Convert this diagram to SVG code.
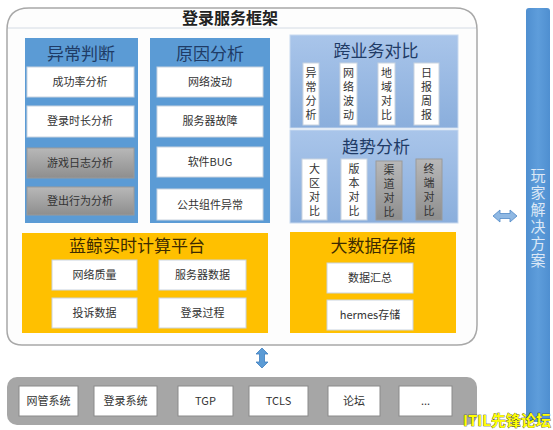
<svg xmlns="http://www.w3.org/2000/svg" width="553" height="430" viewBox="0 0 553 430">
<defs>
<linearGradient id="gGray" x1="0" y1="0" x2="0" y2="1"><stop offset="0" stop-color="#b8b8b8"/><stop offset="1" stop-color="#8e8e8e"/></linearGradient>
<linearGradient id="gLight" x1="0" y1="0" x2="0" y2="1"><stop offset="0" stop-color="#a9c5ea"/><stop offset="1" stop-color="#8aaedc"/></linearGradient>
<linearGradient id="gBar" x1="0" y1="0" x2="1" y2="0"><stop offset="0" stop-color="#4f8fd0"/><stop offset="0.5" stop-color="#5e9ddb"/><stop offset="1" stop-color="#4f8fd0"/></linearGradient>
</defs>
<style>
text{font-family:"Noto Sans CJK SC","Liberation Sans",sans-serif;}
.item{fill:#ffffff;stroke:#c9d3df;stroke-width:1;}
.gitem{fill:url(#gGray);stroke:#9a9a9a;stroke-width:1;}
.it{font-size:11px;fill:#333;text-anchor:middle;}
.vt{font-size:11px;fill:#333;text-anchor:middle;writing-mode:vertical-rl;letter-spacing:3px;}
.hd{font-size:17px;fill:#1f3b66;text-anchor:middle;}
.yh{font-size:17px;fill:#3d2b00;text-anchor:middle;}
.col{fill:#5b9bd5;}
.light{fill:url(#gLight);stroke:#c8d9ef;stroke-width:1;}
.yel{fill:#ffc000;}
.bi{fill:#ffffff;stroke:#8a8a8a;stroke-width:1;}
</style>
<rect width="553" height="430" fill="#ffffff"/>

<g id="frame">
<path d="M29,8 H455 Q477,8 477,30 V325 Q477,345 457,345 H22 Q7,345 7,330 V30 Q7,8 29,8 Z" fill="#fdfdfd" stroke="#a8a8a8" stroke-width="1.5"/>
<line x1="8" y1="28" x2="476" y2="28" stroke="#d4dbe4" stroke-width="1"/>
<text x="230" y="24" font-size="16" font-weight="bold" fill="#222" text-anchor="middle">登录服务框架</text>
</g>

<g id="col-yichang">
<rect class="col" x="25" y="38" width="113" height="185"/>
<text class="hd" x="81" y="60">异常判断</text>
<rect class="item" x="27" y="67" width="107" height="30"/><text class="it" x="80" y="86">成功率分析</text>
<rect class="item" x="27" y="106" width="107" height="31"/><text class="it" x="80" y="125">登录时长分析</text>
<rect class="gitem" x="27" y="148" width="107" height="30"/><text class="it" x="80" y="167">游戏日志分析</text>
<rect class="gitem" x="27" y="187" width="107" height="28"/><text class="it" x="80" y="205">登出行为分析</text>
</g>

<g id="col-yuanyin">
<rect class="col" x="150" y="38" width="120" height="185"/>
<text class="hd" x="210" y="60">原因分析</text>
<rect class="item" x="157" y="67" width="106" height="30"/><text class="it" x="210" y="86">网络波动</text>
<rect class="item" x="157" y="106" width="106" height="31"/><text class="it" x="210" y="125">服务器故障</text>
<rect class="item" x="157" y="147" width="106" height="30"/><text class="it" x="210" y="166">软件BUG</text>
<rect class="item" x="157" y="189" width="106" height="31"/><text class="it" x="210" y="209">公共组件异常</text>
</g>

<g id="kuayewu">
<rect class="light" x="290" y="35" width="168" height="93"/>
<text class="hd" x="376" y="57">跨业务对比</text>
<rect class="item" x="303" y="63" width="16" height="62"/><text class="vt" x="311" y="95.5">异常分析</text>
<rect class="item" x="340" y="63" width="17" height="62"/><text class="vt" x="348.5" y="95.5">网络波动</text>
<rect class="item" x="378" y="63" width="17" height="62"/><text class="vt" x="386.5" y="95.5">地域对比</text>
<rect class="item" x="414" y="63" width="25" height="62"/><text class="vt" x="426.5" y="95.5">日报周报</text>
</g>

<g id="qushi">
<rect class="light" x="290" y="130" width="168" height="93"/>
<text class="hd" x="376" y="153">趋势分析</text>
<rect class="item" x="302" y="159" width="25" height="61"/><text class="vt" x="314.5" y="191">大区对比</text>
<rect class="item" x="341" y="159" width="26" height="61"/><text class="vt" x="354" y="191">版本对比</text>
<rect class="gitem" x="376" y="161" width="26" height="59"/><text class="vt" x="389" y="192">渠道对比</text>
<rect class="gitem" x="416" y="159" width="26" height="61"/><text class="vt" x="429" y="191">终端对比</text>
</g>

<g id="lanjing">
<rect class="yel" x="22" y="233" width="246" height="100"/>
<text class="yh" x="137" y="252">蓝鲸实时计算平台</text>
<rect class="item" x="52" y="260" width="85" height="30" stroke="#c99700"/><text class="it" x="94.5" y="279">网络质量</text>
<rect class="item" x="159" y="260" width="87" height="30" stroke="#c99700"/><text class="it" x="202.5" y="279">服务器数据</text>
<rect class="item" x="52" y="298" width="85" height="30" stroke="#c99700"/><text class="it" x="94.5" y="317">投诉数据</text>
<rect class="item" x="159" y="298" width="87" height="30" stroke="#c99700"/><text class="it" x="202.5" y="317">登录过程</text>
</g>

<g id="dashuju">
<rect class="yel" x="290" y="232" width="166" height="101"/>
<text class="yh" x="373" y="252">大数据存储</text>
<rect class="item" x="327" y="263" width="86" height="30" stroke="#c99700"/><text class="it" x="370" y="282">数据汇总</text>
<rect class="item" x="327" y="300" width="86" height="30" stroke="#c99700"/><text class="it" x="370" y="319">hermes存储</text>
</g>

<g id="bottom">
<rect x="7" y="377" width="470" height="48" rx="10" fill="#a6a6a6"/>
<rect class="bi" x="19" y="386" width="59" height="30"/><text class="it" x="48.5" y="405">网管系统</text>
<rect class="bi" x="94" y="386" width="63" height="30"/><text class="it" x="125.5" y="405">登录系统</text>
<rect class="bi" x="178" y="386" width="55" height="30"/><text class="it" x="205.5" y="405">TGP</text>
<rect class="bi" x="249" y="386" width="59" height="30"/><text class="it" x="278.5" y="405">TCLS</text>
<rect class="bi" x="328" y="386" width="52" height="30"/><text class="it" x="354" y="405">论坛</text>
<rect class="bi" x="399" y="386" width="53" height="30"/><text class="it" x="425.5" y="405">...</text>
</g>

<g id="wanjia">
<rect x="526" y="8" width="24" height="414" rx="3" fill="url(#gBar)"/>
<text x="538" y="219" font-size="15" fill="#dce8f6" text-anchor="middle" style="writing-mode:vertical-rl" letter-spacing="2">玩家解决方案</text>
</g>

<g id="connectors">
<path d="M262,348 l-6,6 h3.5 v8 h-3.5 l6,6 l6,-6 h-3.5 v-8 h3.5 z" fill="#5b9bd5" stroke="#3f7fbf" stroke-width="0.8"/>
<path d="M493,216 l7,-6 v3.5 h10 v-3.5 l7,6 l-7,6 v-3.5 h-10 v3.5 z" fill="#8fb8e3" stroke="#4f88c6" stroke-width="0.8"/>
</g>

<g id="watermark">
<text x="507" y="426" font-size="15" font-weight="bold" fill="#ffff00" stroke="#222" stroke-width="0.6" paint-order="stroke" text-anchor="middle">ITIL先锋论坛</text>
</g>
</svg>
